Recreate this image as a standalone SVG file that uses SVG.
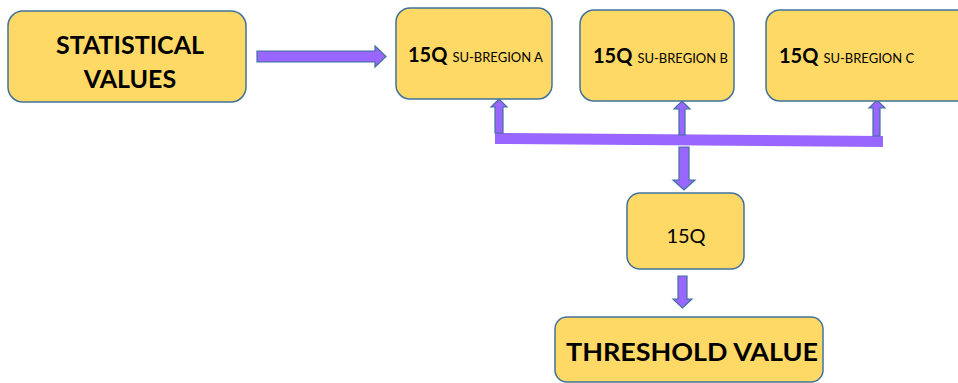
<svg xmlns="http://www.w3.org/2000/svg" width="958" height="383" viewBox="0 0 958 383">
<style>
.node{fill:#FFD966;stroke:#41719C;stroke-width:1.5}
.arr{fill:#9966FF;stroke:#41719C;stroke-width:1.2;stroke-linejoin:miter}
.bus{fill:#9966FF;stroke:none}
text{font-family:"Lato","Liberation Sans",sans-serif;fill:#000;font-weight:bold}
.big{font-size:25px}
.q{font-size:20px}
.s{font-size:13px;font-weight:normal}
</style>
<rect width="958" height="383" fill="#fff"/>
<g id="connectors">
<polygon class="arr" points="257,51 375,51 375,46 386,56.5 375,67 375,62 257,62"/>
<polygon class="bus" points="495,133 883,136 883,147 495,144"/>
<polygon class="arr" points="495,133 495,107 491,107 499,99 507,107 503,107 503,133"/>
<polygon class="arr" points="679,135 679,109 674,109 682,101 690,109 685,109 685,135"/>
<polygon class="arr" points="873,136 873,108 869,108 877,100 885,108 880,108 880,136"/>
<polygon class="arr" points="679,147 689,147 689,180 695,180 684,190 673,180 679,180"/>
<polygon class="arr" points="678,276 687,276 687,299 692,299 682.5,308 673,299 678,299"/>
</g>
<g id="stat">
<rect class="node" x="8" y="11" width="238" height="91" rx="15"/>
<text class="big" x="130" y="54" text-anchor="middle">STATISTICAL</text>
<text class="big" x="130" y="88" text-anchor="middle">VALUES</text>
</g>
<g id="subA">
<rect class="node" x="396" y="8" width="156" height="91" rx="14"/>
<text x="408" y="62"><tspan class="q">15Q</tspan><tspan class="s" dx="5">SU-BREGION A</tspan></text>
</g>
<g id="subB">
<rect class="node" x="580" y="10" width="154" height="91" rx="14"/>
<text x="593" y="63"><tspan class="q">15Q</tspan><tspan class="s" dx="5">SU-BREGION B</tspan></text>
</g>
<g id="subC">
<rect class="node" x="766" y="10" width="210" height="91" rx="14"/>
<text x="779" y="63"><tspan class="q">15Q</tspan><tspan class="s" dx="5">SU-BREGION C</tspan></text>
</g>
<g id="q15">
<rect class="node" x="627" y="193" width="117" height="76" rx="13"/>
<text class="q" x="686" y="243" text-anchor="middle" style="font-weight:normal">15Q</text>
</g>
<g id="threshold">
<rect class="node" x="555" y="317" width="268" height="65" rx="12"/>
<text class="big" x="566" y="361" textLength="252" lengthAdjust="spacingAndGlyphs">THRESHOLD VALUE</text>
</g>
</svg>
